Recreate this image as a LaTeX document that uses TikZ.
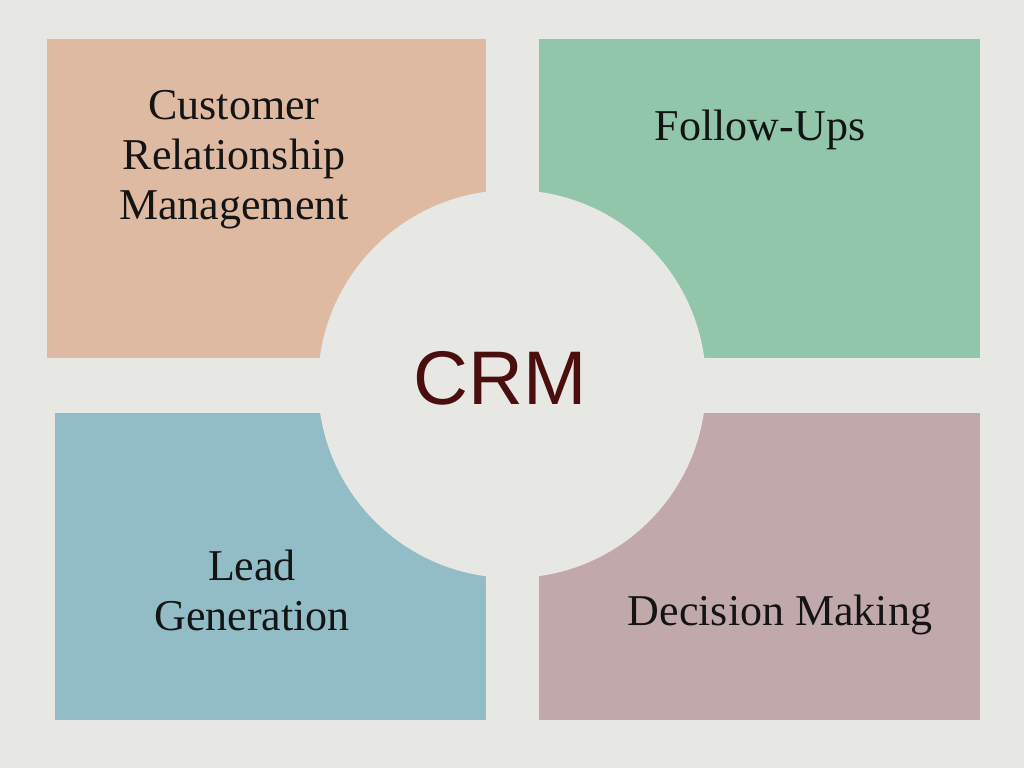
\documentclass[tikz,border=0pt]{standalone}
\usepackage{fontspec}
\setmainfont{Liberation Serif}
\newfontfamily\crmfont{Liberation Sans}
\definecolor{bg}{HTML}{E7E7E3}
\definecolor{ctl}{HTML}{DFBAA3}
\definecolor{ctr}{HTML}{92C6AB}
\definecolor{cbl}{HTML}{93BDC6}
\definecolor{cbr}{HTML}{C1A9AB}
\definecolor{crmred}{HTML}{4A0E0E}
\definecolor{ink}{HTML}{141414}
\tikzset{lbl/.style={align=center,text=ink,font=\fontsize{44}{50}\selectfont,inner sep=0pt}}
\begin{document}
\begin{tikzpicture}[x=1pt,y=-1pt]
\fill[bg] (0,0) rectangle (1024,768);
\useasboundingbox (0,0) rectangle (1024,768);
\fill[ctl] (47,39) rectangle (486,358);
\fill[ctr] (539,39) rectangle (980,358);
\fill[cbl] (55,413) rectangle (486,720);
\fill[cbr] (539,413) rectangle (980,720);
\fill[bg] (512,384) circle[radius=194];
\node[lbl] (tl) at (234,160) {Customer\\Relationship\\Management};
\node[lbl] (tr) at (760,130) {Follow-Ups};
\node[lbl] (bl) at (252,590) {Lead\\Generation};
\node[lbl] (br) at (780,615) {Decision Making};
\node[inner sep=0pt,text=crmred,font=\crmfont\fontsize{76}{80}\selectfont] (crm) at (500,378) {CRM};
\end{tikzpicture}
\end{document}
